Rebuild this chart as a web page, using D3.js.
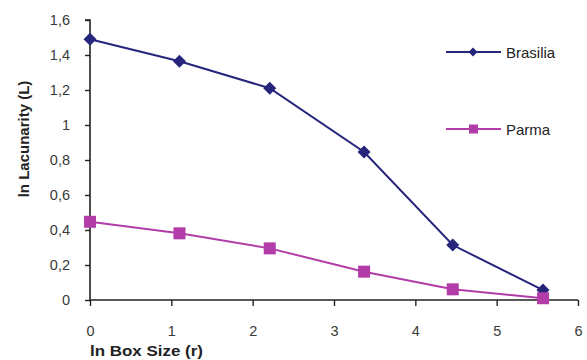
<!DOCTYPE html>
<html><head><meta charset="utf-8">
<script src="https://cdn.jsdelivr.net/npm/d3@7"></script>
<style>body{margin:0;background:#fff}svg{display:block}text{font-family:"Liberation Sans",Arial,sans-serif}</style>
</head><body><svg id="c" width="587" height="360"></svg>
<script>
const xValues = [0, 1.1, 2.21, 3.37, 4.46, 5.57];
const brasilia = [1.49, 1.364, 1.21, 0.846, 0.314, 0.057];
const parma = [0.447, 0.381, 0.295, 0.162, 0.061, 0.01];
const seriesNames = ["Brasilia", "Parma"];
const xTicks = [0, 1, 2, 3, 4, 5, 6];
const yTicks = [0, 0.2, 0.4, 0.6, 0.8, 1, 1.2, 1.4, 1.6];
const colors = ["#25257C", "#B23DA8"];

const svg = d3.select("#c");
const x = d3.scaleLinear().domain([0, 6]).range([90, 578]);
const y = d3.scaleLinear().domain([0, 1.6]).range([300, 20]);
const fmt = d => String(d).replace(".", ",");

const yAxis = svg.append("g").attr("transform", "translate(90,0)")
  .call(d3.axisLeft(y).tickValues(yTicks).tickFormat(fmt).tickSize(5).tickPadding(15));
const xAxis = svg.append("g").attr("transform", "translate(0,300)")
  .call(d3.axisBottom(x).tickValues(xTicks).tickFormat(fmt).tickSize(6).tickPadding(20));
[yAxis, xAxis].forEach(a => {
  a.select(".domain").attr("stroke", "#222").attr("stroke-width", 1.6);
  a.selectAll(".tick line").attr("stroke", "#222").attr("stroke-width", 1.4);
  a.selectAll("text").attr("font-size", 14.5).attr("fill", "#3a3a3a").attr("font-family", '"Liberation Sans",Arial,sans-serif');
});
yAxis.select(".domain").attr("d", `M-5,${y(1.6)}H0V${y(0)}`);
xAxis.select(".domain").attr("d", `M${x(0)},0H${x(6)}`);

const line = d3.line().x((d, i) => x(xValues[i])).y(d => y(d));
const data = [brasilia, parma];
data.forEach((s, k) => {
  svg.append("path").datum(s).attr("d", line).attr("fill", "none")
    .attr("stroke", colors[k]).attr("stroke-width", 2);
});
const dia = r => `M0,${-r}L${r},0L0,${r}L${-r},0Z`;
svg.selectAll(".b").data(brasilia).join("path")
  .attr("transform", (d, i) => `translate(${x(xValues[i])},${y(d)})`)
  .attr("d", dia(6.5)).attr("fill", colors[0]);
svg.selectAll(".p").data(parma).join("rect")
  .attr("x", (d, i) => x(xValues[i]) - 6).attr("y", d => y(d) - 6)
  .attr("width", 12).attr("height", 12).attr("fill", colors[1]);

// legend
const legY = [52, 129];
seriesNames.forEach((n, k) => {
  const g = svg.append("g");
  g.append("line").attr("x1", 446).attr("x2", 501).attr("y1", legY[k]).attr("y2", legY[k])
    .attr("stroke", colors[k]).attr("stroke-width", 2);
  if (k === 0) g.append("path").attr("transform", `translate(473,${legY[k]})`).attr("d", dia(4.5)).attr("fill", colors[k]);
  else g.append("rect").attr("x", 469).attr("y", legY[k] - 4.5).attr("width", 9).attr("height", 9).attr("fill", colors[k]);
  g.append("text").attr("x", 506).attr("y", legY[k] + 5.5).attr("font-size", 15).attr("fill", "#222").text(n);
});

svg.append("text").attr("x", 90).attr("y", 356).attr("font-size", 15).attr("font-weight", "bold").attr("fill", "#222")
  .attr("textLength", 113).attr("lengthAdjust", "spacingAndGlyphs").text("ln Box Size (r)");
svg.append("text").attr("transform", "translate(29,139) rotate(-90)").attr("text-anchor", "middle")
  .attr("font-size", 15).attr("font-weight", "bold").attr("fill", "#222").text("ln Lacunarity (L)");
</script></body></html>
